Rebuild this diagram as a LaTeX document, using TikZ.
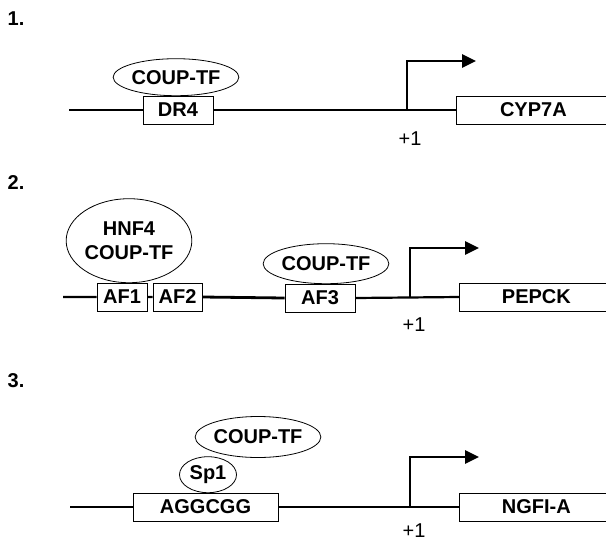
\documentclass[tikz,border=0pt]{standalone}
\usepackage{fontspec}
\setmainfont{Liberation Sans}
\usetikzlibrary{arrows.meta,positioning,shapes.geometric}
\tikzset{
  dna/.style={line width=2.2pt},
  site/.style={draw, line width=0.8pt, fill=white, minimum height=28pt, inner sep=0pt, font=\fontsize{20}{22}\selectfont\bfseries},
  gene/.style={site, minimum width=154pt, anchor=west},
  factor/.style={draw, ellipse, line width=0.8pt, fill=white, inner sep=0pt, align=center, font=\fontsize{20}{24}\selectfont\bfseries},
  tss/.style={line width=2.6pt, -{Triangle[length=14pt,width=13pt]}},
  plus/.style={font=\fontsize{20}{22}\selectfont},
  panel/.style={font=\fontsize{20}{22}\selectfont\bfseries}
}
\begin{document}
\begin{tikzpicture}[x=1pt,y=-1pt]
  \useasboundingbox (0,0) rectangle (606,542);
  % Panel 1
  \node[panel] (n1) at (16,19) {1.};
  \coordinate (l1) at (69,110);
  \node[site, minimum width=70pt] (dr4) at (178,110) {DR4};
  \node[gene] (cyp) at (456,110) {CYP7A};
  \node[factor, minimum width=98pt, minimum height=37pt, above=-0.5pt of dr4, xshift=-2pt] (coup1) {COUP-TF};
  \draw[dna] (l1) -- (dr4.west) (dr4.east) -- (cyp.west);
  \coordinate (s1) at (407,110);
  \coordinate (t1) at (476,61);
  \draw[tss] (s1) |- (t1);
  \node[plus] (p1) at (410,139) {+1};
  % Panel 2
  \node[panel] (n2) at (16,183) {2.};
  \coordinate (l2) at (63,297);
  \node[site, minimum width=50pt] (af1) at (122,297) {AF1};
  \node[site, minimum width=49pt] (af2) at (177.5,297) {AF2};
  \node[site, minimum width=70pt] (af3) at (320,298) {AF3};
  \node[gene] (pepck) at (459,297) {PEPCK};
  \node[factor, minimum width=106pt, minimum height=84pt, above=-0.5pt of af1, xshift=7pt] (hnf) {HNF4\\COUP-TF};
  \node[factor, minimum width=111pt, minimum height=40pt, above=-0.5pt of af3, xshift=6pt] (coup2) {COUP-TF};
  \draw[dna] (l2) -- (af1.west) (af1.east) -- (af2.west) (af3.east) -- (pepck.west);
  \draw[dna, line width=2.8pt] (af2.east) -- (af3.west);
  \coordinate (s2) at (410,297);
  \coordinate (t2) at (479,248);
  \draw[tss] (s2) |- (t2);
  \node[plus] (p2) at (414,325) {+1};
  % Panel 3
  \node[panel] (n3) at (16,381) {3.};
  \coordinate (l3) at (70,507);
  \node[site, minimum width=145pt] (agg) at (205.5,507) {AGGCGG};
  \node[gene] (ngfi) at (459,507) {NGFI-A};
  \node[factor, minimum width=57pt, minimum height=36pt, above=-0.5pt of agg, xshift=2.5pt] (sp1) {Sp1};
  \node[factor, minimum width=109pt, minimum height=41pt] (coup3) at (258,437) {COUP-TF};
  \draw[dna] (l3) -- (agg.west) (agg.east) -- (ngfi.west);
  \coordinate (s3) at (410,507);
  \coordinate (t3) at (479,457);
  \draw[tss] (s3) |- (t3);
  \node[plus] (p3) at (414,531) {+1};
\end{tikzpicture}
\end{document}
